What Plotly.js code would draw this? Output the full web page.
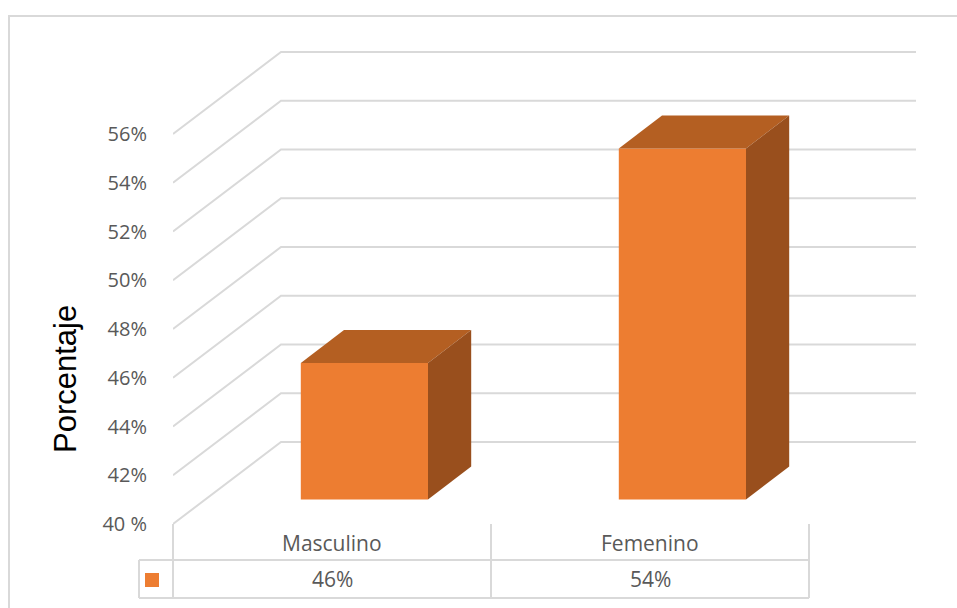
<!DOCTYPE html>
<html>
<head>
<meta charset="utf-8">
<script src="https://cdn.plot.ly/plotly-3.0.1.min.js"></script>
<style>html,body{margin:0;padding:0;background:#fff;}#chart{width:957px;height:608px;}</style>
</head>
<body>
<div id="chart"></div>
<script>
// ---- data ----
const categories = ["Masculino", "Femenino"];
const values = [45.6, 54.4];               // percent
const tickValues = [40, 42, 44, 46, 48, 50, 52, 54, 56];
const tickLabels = ["40 %", "42%", "44%", "46%", "48%", "50%", "52%", "54%", "56%"];
const axisTitle = "Porcentaje";

// ---- layout geometry (pixels) ----
const W = 957, H = 608;
const plotL = 173, plotR = 916, plotT = 40, plotB = 600;
const pxPerCat = 318, pxPerPct = 24.375;
const baseVal = 40, basePx = 524;
const xmin = -0.5, xmax = xmin + (plotR - plotL) / pxPerCat;
const ymax = baseVal + (basePx - plotT) / pxPerPct;
const ymin = baseVal - (plotB - basePx) / pxPerPct;
const backDX = 108 / pxPerCat;   // depth shift in x units
const backDY = 82 / pxPerPct;    // depth shift in y units
const barFront = 0.30, barBack = 0.70, barWidth = 0.40;

const cFront = "#ED7D31", cTop = "#B45F22", cSide = "#994F1D";
const gridColor = "#D9D9D9", textColor = "#595959";

function pxX(p) { return (p - plotL) / (plotR - plotL); }
function pxY(p) { return (plotB - p) / (plotB - plotT); }
function unitToPx(u) { return plotL + (u - xmin) * pxPerCat; }

const shapes = [];
// gridlines (floor-left wall diagonal + back wall horizontal)
tickValues.forEach(v => {
  shapes.push({type: "path", xref: "x", yref: "y", layer: "below",
    path: `M ${xmin},${v} L ${xmin + backDX},${v + backDY} L ${categories.length - 0.5 + backDX},${v + backDY}`,
    line: {color: gridColor, width: 2}});
});

// bars: front face via bar trace, top/side via filled polygons
const frontShiftX = barFront * backDX, frontShiftY = barFront * backDY;
const depthX = (barBack - barFront) * backDX, depthY = (barBack - barFront) * backDY;
const traces = [];
traces.push({
  type: "bar",
  x: categories.map((c, i) => i + frontShiftX),
  y: values.map(v => v - baseVal),
  base: values.map(() => baseVal + frontShiftY),
  width: barWidth,
  marker: {color: cFront, line: {width: 0}},
  hoverinfo: "skip", showlegend: false
});
values.forEach((v, i) => {
  const xl = i - barWidth / 2 + frontShiftX, xr = i + barWidth / 2 + frontShiftX;
  const yt = v + frontShiftY, yb = baseVal + frontShiftY;
  traces.push({type: "scatter", mode: "lines", fill: "toself", fillcolor: cTop,
    x: [xl, xr, xr + depthX, xl + depthX, xl],
    y: [yt, yt, yt + depthY, yt + depthY, yt],
    line: {width: 0, color: cTop}, hoverinfo: "skip", showlegend: false});
  traces.push({type: "scatter", mode: "lines", fill: "toself", fillcolor: cSide,
    x: [xr, xr + depthX, xr + depthX, xr, xr],
    y: [yt, yt + depthY, yb + depthY, yb, yt],
    line: {width: 0, color: cSide}, hoverinfo: "skip", showlegend: false});
});

// data table
const tLeftKey = 139, tTop = 524, tMid = 560, tBot = 598;
const colEdges = [];
for (let i = 0; i <= categories.length; i++) colEdges.push(unitToPx(i - 0.5));
const lineStyle = {color: gridColor, width: 2};
colEdges.forEach(px => {
  shapes.push({type: "line", xref: "paper", yref: "paper", x0: pxX(px), x1: pxX(px), y0: pxY(tTop), y1: pxY(tBot), line: lineStyle});
});
shapes.push({type: "line", xref: "paper", yref: "paper", x0: pxX(tLeftKey), x1: pxX(tLeftKey), y0: pxY(tMid), y1: pxY(tBot), line: lineStyle});
[tMid, tBot].forEach(py => {
  shapes.push({type: "line", xref: "paper", yref: "paper", x0: pxX(tLeftKey), x1: pxX(colEdges[colEdges.length - 1]), y0: pxY(py), y1: pxY(py), line: lineStyle});
});
// legend key
shapes.push({type: "rect", xref: "paper", yref: "paper", x0: pxX(145), x1: pxX(159), y0: pxY(587), y1: pxY(573), fillcolor: cFront, line: {width: 0}});
// outer chart border
shapes.push({type: "rect", xref: "paper", yref: "paper", x0: pxX(9), x1: pxX(975), y0: pxY(625), y1: pxY(16), line: {color: gridColor, width: 2}, fillcolor: "rgba(0,0,0,0)"});

const annotations = [];
const tickFont = {family: "Open Sans, sans-serif", size: 20, color: textColor};
const tableFont = {family: "Open Sans, sans-serif", size: 21, color: textColor};
categories.forEach((c, i) => {
  annotations.push({xref: "paper", yref: "paper", x: pxX(unitToPx(i)), y: pxY(543), text: c, showarrow: false, font: tableFont, xanchor: "center", yanchor: "middle"});
  annotations.push({xref: "paper", yref: "paper", x: pxX(unitToPx(i)), y: pxY(579), text: Math.round(values[i]) + "%", showarrow: false, font: tableFont, xanchor: "center", yanchor: "middle"});
});
annotations.push({xref: "paper", yref: "paper", x: pxX(65), y: pxY(379), text: axisTitle, textangle: -90, showarrow: false,
  font: {family: "Liberation Sans, Arial, sans-serif", size: 31, color: "#000000"}, xanchor: "center", yanchor: "middle"});

const layout = {
  width: W, height: H,
  margin: {l: plotL, r: W - plotR, t: plotT, b: H - plotB, pad: 0},
  paper_bgcolor: "#ffffff", plot_bgcolor: "rgba(0,0,0,0)",
  showlegend: false, hovermode: false,
  xaxis: {range: [xmin, xmax], visible: false, fixedrange: true},
  yaxis: {range: [ymin, ymax], showgrid: false, zeroline: false, showline: false,
    tickmode: "array", tickvals: tickValues, ticktext: tickLabels,
    ticks: "outside", ticklen: 21, tickcolor: "rgba(0,0,0,0)",
    tickfont: tickFont, fixedrange: true},
  shapes: shapes,
  annotations: annotations
};

Plotly.newPlot("chart", traces, layout, {displayModeBar: false, staticPlot: true});
</script>
</body>
</html>
